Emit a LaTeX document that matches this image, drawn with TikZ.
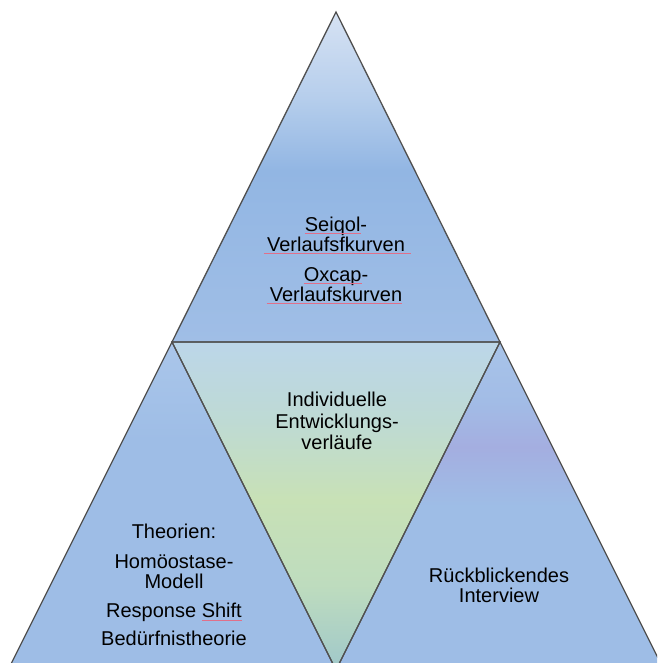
\documentclass[tikz,border=0pt]{standalone}
\usepackage{fontspec}
\setmainfont{Liberation Sans}
\definecolor{edgegray}{HTML}{505050}
\definecolor{spellred}{HTML}{E0708A}
\pgfdeclareverticalshading{topshade}{100bp}{
  color(0bp)=({rgb,255:red,160;green,190;blue,230});
  color(25bp)=({rgb,255:red,160;green,190;blue,230});
  color(51bp)=({rgb,255:red,146;green,182;blue,227});
  color(62bp)=({rgb,255:red,182;green,206;blue,236});
  color(75bp)=({rgb,255:red,214;green,226;blue,243});
  color(100bp)=({rgb,255:red,214;green,226;blue,243})}
\pgfdeclareverticalshading{centershade}{100bp}{
  color(0bp)=({rgb,255:red,160;green,200;blue,202});
  color(25bp)=({rgb,255:red,160;green,200;blue,202});
  color(38bp)=({rgb,255:red,190;green,220;blue,190});
  color(51bp)=({rgb,255:red,200;green,225;blue,182});
  color(63bp)=({rgb,255:red,190;green,218;blue,212});
  color(75bp)=({rgb,255:red,188;green,214;blue,233});
  color(100bp)=({rgb,255:red,188;green,214;blue,233})}
\pgfdeclareverticalshading{rightshade}{100bp}{
  color(0bp)=({rgb,255:red,158;green,189;blue,230});
  color(25bp)=({rgb,255:red,158;green,189;blue,230});
  color(50bp)=({rgb,255:red,158;green,189;blue,230});
  color(59bp)=({rgb,255:red,164;green,174;blue,224});
  color(66bp)=({rgb,255:red,162;green,188;blue,230});
  color(75bp)=({rgb,255:red,168;green,196;blue,233});
  color(100bp)=({rgb,255:red,168;green,196;blue,233})}
\pgfdeclareverticalshading{leftshade}{100bp}{
  color(0bp)=({rgb,255:red,158;green,189;blue,230});
  color(25bp)=({rgb,255:red,158;green,189;blue,230});
  color(60bp)=({rgb,255:red,158;green,189;blue,230});
  color(75bp)=({rgb,255:red,170;green,198;blue,234});
  color(100bp)=({rgb,255:red,170;green,198;blue,234})}
\begin{document}
\begin{tikzpicture}[x=1pt,y=1pt,
  tri/.style={draw=edgegray, line width=1.3pt, line join=miter},
  lbl/.style={font=\fontsize{20}{20}\selectfont, inner sep=0pt, anchor=base},
  spell/.style={draw=spellred, line width=0.7pt}]
\useasboundingbox (0,0) rectangle (657,663);
\clip (0,0) rectangle (657,663);
% corner coordinates (y measured upward)
\coordinate (A) at (336,651);
\coordinate (L) at (172,321);
\coordinate (R) at (500,321);
\coordinate (B) at (336,-7);
\coordinate (BL) at (8,-7);
\coordinate (BR) at (664,-7);
% triangles
\path[shading=topshade] (A) -- (L) -- (R) -- cycle;
\path[shading=leftshade] (L) -- (BL) -- (B) -- cycle;
\path[shading=rightshade] (R) -- (B) -- (BR) -- cycle;
\path[shading=centershade] (L) -- (R) -- (B) -- cycle;
\draw[tri] (A) -- (L) -- (R) -- cycle;
\draw[tri] (L) -- (BL) -- (B) -- cycle;
\draw[tri] (R) -- (B) -- (BR) -- cycle;
\draw[tri] (L) -- (R) -- (B) -- cycle;
% top texts
\node[lbl] (t1) at (336,431) {Seiqol-};
\node[lbl] (t2) at (336,411) {Verlaufsfkurven};
\node[lbl] (t3) at (336,381) {Oxcap-};
\node[lbl] (t4) at (336,361) {Verlaufskurven};
% center texts
\node[lbl] (c1) at (337,256) {Individuelle};
\node[lbl] (c2) at (337,234) {Entwicklungs-};
\node[lbl] (c3) at (337,213) {verläufe};
% left texts
\node[lbl] (l1) at (174,124) {Theorien:};
\node[lbl] (l2) at (174,94) {Homöostase-};
\node[lbl] (l3) at (174,74) {Modell};
\node[lbl] (l4) at (174,45) {Response Shift};
\node[lbl] (l5) at (174,17) {Bedürfnistheorie};
% right texts
\node[lbl] (r1) at (499,80) {Rückblickendes};
\node[lbl] (r2) at (499,60) {Interview};
% spell-check underlines
\draw[spell] ([yshift=-1.5pt]t1.base west) -- ([yshift=-1.5pt,xshift=-6.7pt]t1.base east);
\draw[spell] ([yshift=-1.5pt,xshift=-3pt]t2.base west) -- ([yshift=-1.5pt,xshift=6pt]t2.base east);
\draw[spell] ([yshift=-1.5pt]t3.base west) -- ([yshift=-1.5pt,xshift=-6.7pt]t3.base east);
\draw[spell] ([yshift=-1.5pt,xshift=-3pt]t4.base west) -- ([yshift=-1.5pt]t4.base east);
\draw[spell] ([yshift=-2pt,xshift=-40pt]l4.base east) -- ([yshift=-2pt]l4.base east);
\end{tikzpicture}
\end{document}
